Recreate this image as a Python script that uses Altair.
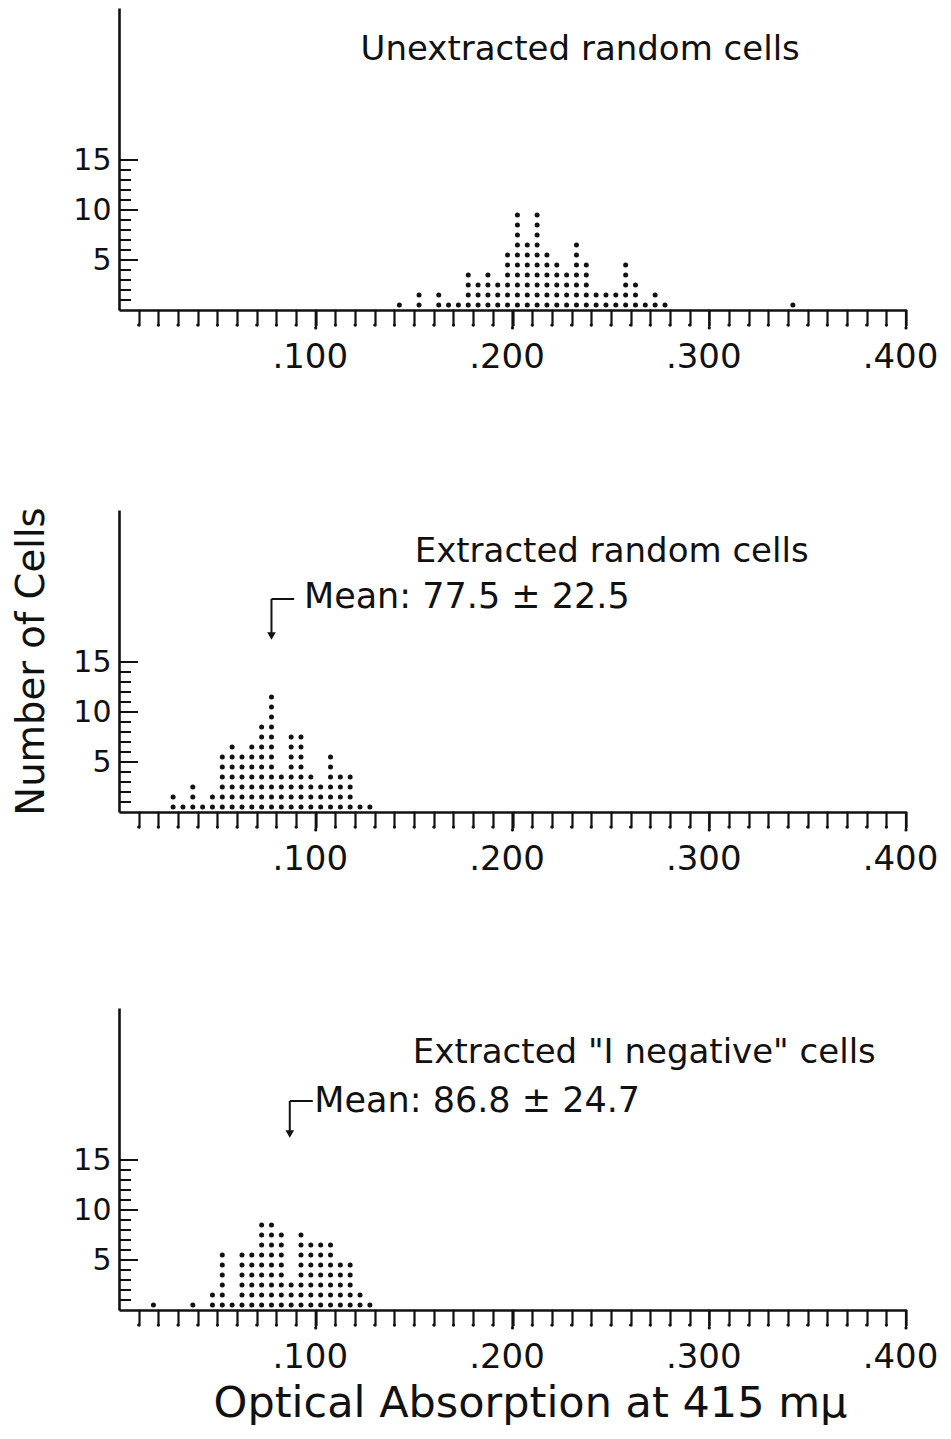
import altair as alt
import pandas as pd

# ---------------- data ----------------
# Panel 1: Unextracted random cells (column position, number of cells)
p1_x = [0.1425, 0.1525, 0.1625, 0.1675, 0.1725, 0.1775, 0.1825, 0.1875, 0.1925,
        0.1975, 0.2025, 0.2075, 0.2125, 0.2175, 0.2225, 0.2275, 0.2325, 0.2375,
        0.2425, 0.2475, 0.2525, 0.2575, 0.2625, 0.2675, 0.2725, 0.2775, 0.3425]
p1_n = [1, 2, 2, 1, 1, 4, 3, 4, 3, 6, 10, 7, 10, 6, 5, 4, 7, 5, 2, 2, 2, 5, 3, 1, 2, 1, 1]

# Panel 2: Extracted random cells
p2_x = [0.0275, 0.0325, 0.0375, 0.0425, 0.0475, 0.0525, 0.0575, 0.0625, 0.0675,
        0.0725, 0.0775, 0.0825, 0.0875, 0.0925, 0.0975, 0.1025, 0.1075, 0.1125,
        0.1175, 0.1225, 0.1275]
p2_n = [2, 1, 3, 1, 2, 6, 7, 6, 7, 9, 12, 4, 8, 8, 4, 3, 6, 4, 4, 1, 1]

# Panel 3: Extracted "I negative" cells
p3_x = [0.0175, 0.0375, 0.0475, 0.0525, 0.0575, 0.0625, 0.0675, 0.0725, 0.0775,
        0.0825, 0.0875, 0.0925, 0.0975, 0.1025, 0.1075, 0.1125, 0.1175, 0.1225,
        0.1275]
p3_n = [1, 1, 2, 6, 1, 6, 6, 9, 9, 8, 3, 8, 7, 7, 7, 5, 5, 2, 1]

titles = ["Unextracted random cells", "Extracted random cells",
          'Extracted "I negative" cells']
means = [None, 0.0775, 0.0868]
mean_labels = [None, "Mean: 77.5 \u00b1 22.5", "Mean: 86.8 \u00b1 24.7"]

x_ticks = [round(0.01 * i, 2) for i in range(1, 41)]
x_major = [0.1, 0.2, 0.3, 0.4]
y_minor = [1, 2, 3, 4, 6, 7, 8, 9, 11, 12, 13, 14]
y_major = [5, 10, 15]

FONT = "DejaVu Sans"
INK = "#111111"
W, H = 787, 302
YMAX = 30.2


def stack(xs, ns):
    rows = []
    for x, n in zip(xs, ns):
        for k in range(1, n + 1):
            rows.append({"x": x, "y": k - 0.5})
    return pd.DataFrame(rows)


xscale = alt.Scale(domain=[0, 0.4], nice=False, zero=False)
yscale = alt.Scale(domain=[0, YMAX], nice=False, zero=False)

LABEL_EXPR = ("datum.value > 0.095 && abs(datum.value*10 - round(datum.value*10)) < 0.001"
              " ? '.' + format(datum.value*1000, 'd') : ''")


def panel(i, xs, ns, title_xy, mean_geo, last):
    xaxis = alt.Axis(
        values=x_ticks,
        tickSize=15, tickWidth=2.2, tickColor=INK, tickCap="round",
        domainColor=INK, domainWidth=2.6,
        grid=False,
        labelExpr=LABEL_EXPR,
        labelFont=FONT, labelFontSize=34, labelColor=INK,
        labelPadding=15, labelOffset=-6, labelFlush=False, labelOverlap=False,
        title="Optical Absorption at 415 m\u03bc" if last else None,
        titleFont=FONT, titleFontSize=43, titleFontWeight="normal",
        titleColor=INK, titlePadding=8, titleX=411, titleAlign="center",
    )
    yaxis = alt.Axis(
        values=[5, 10, 15], ticks=False, tickSize=0,
        domainColor=INK, domainWidth=2.6, grid=False,
        labelFont=FONT, labelFontSize=30, labelColor=INK, labelPadding=8,
        title="Number of Cells" if i == 1 else "\u00a0", titleFont=FONT,
        titleFontSize=38.5, titleFontWeight="normal", titleColor=INK,
        titlePadding=21, titleOpacity=1 if i == 1 else 0,
    )
    X = lambda f: alt.X(f, scale=xscale, axis=xaxis)
    Y = lambda f: alt.Y(f, scale=yscale, axis=yaxis)
    DX = lambda v: alt.datum(v, scale=xscale, axis=xaxis)
    DY = lambda v: alt.datum(v, scale=yscale, axis=yaxis)

    df = stack(xs, ns)
    dots = alt.Chart(df).mark_circle(size=25, color=INK, opacity=1).encode(
        x=X("x:Q"), y=Y("y:Q"))
    one = pd.DataFrame({"a": [0]})
    layers = [dots]
    # inward y ticks
    layers.append(alt.Chart(pd.DataFrame({"v": y_minor})).mark_rule(
        color=INK, strokeWidth=2).encode(
        y=Y("v:Q"), x=alt.value(0), x2=alt.value(12)))
    layers.append(alt.Chart(pd.DataFrame({"v": y_major})).mark_rule(
        color=INK, strokeWidth=2).encode(
        y=Y("v:Q"), x=alt.value(0), x2=alt.value(19)))
    # slightly longer major x ticks
    layers.append(alt.Chart(pd.DataFrame({"v": x_major})).mark_rule(
        color=INK, strokeWidth=2.2).encode(
        x=X("v:Q"), y=alt.value(H), y2=alt.value(H + 18)))
    # blobs at the end of x ticks
    layers.append(alt.Chart(pd.DataFrame({"v": [t for t in x_ticks if t not in x_major]})).mark_circle(
        size=10, color=INK, opacity=1).encode(
        x=X("v:Q"), y=alt.value(H + 15)))
    layers.append(alt.Chart(pd.DataFrame({"v": x_major})).mark_circle(
        size=10, color=INK, opacity=1).encode(
        x=X("v:Q"), y=alt.value(H + 18)))
    # panel title
    layers.append(alt.Chart(one).mark_text(
        text=titles[i], font=FONT, fontSize=34, color=INK,
        align="center", baseline="middle").encode(
        x=DX(title_xy[0]), y=DY(title_xy[1])))
    if mean_geo is not None:
        m = means[i]
        hook_end, y_top, y_bot, y_head, tx, ty = mean_geo
        layers.append(alt.Chart(one).mark_rule(color=INK, strokeWidth=2).encode(
            x=DX(m), x2=alt.datum(hook_end), y=DY(y_top)))
        layers.append(alt.Chart(one).mark_rule(color=INK, strokeWidth=2).encode(
            x=DX(m), y=DY(y_top), y2=alt.datum(y_bot)))
        layers.append(alt.Chart(one).mark_point(
            shape="triangle-down", filled=True, size=75, color=INK, opacity=1).encode(
            x=DX(m), y=DY(y_head)))
        layers.append(alt.Chart(one).mark_text(
            text=mean_labels[i], font=FONT, fontSize=35, color=INK,
            align="left", baseline="middle").encode(
            x=DX(tx), y=DY(ty)))
    return alt.layer(*layers).properties(width=W, height=H)


c1 = panel(0, p1_x, p1_n, (0.2344, 26.0), None, False)
c2 = panel(1, p2_x, p2_n, (0.2504, 26.0),
           (0.089, 21.3, 17.9, 17.6, 0.094, 21.5), False)
c3 = panel(2, p3_x, p3_n, (0.267, 25.7),
           (0.0985, 20.9, 17.9, 17.6, 0.0993, 20.95), True)

chart = alt.vconcat(c1, c2, c3, spacing=132).properties(
    padding={"left": 4, "top": 0, "right": 0, "bottom": 0}
).configure(background="white").configure_view(strokeWidth=0, stroke=None)

chart.save("out.html", embed_options={"renderer": "svg", "actions": False})
